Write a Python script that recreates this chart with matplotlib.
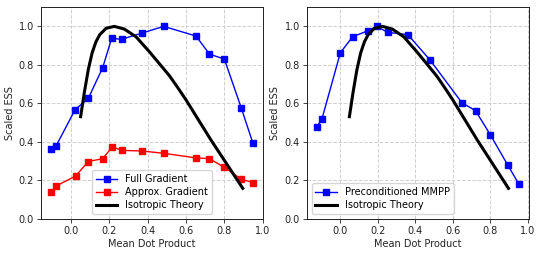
import matplotlib
matplotlib.use("Agg")
import matplotlib.pyplot as plt


# ---------------- DATA ---------------- #

# left panel
full_x = [-0.104, -0.078, 0.021, 0.090, 0.165, 0.212, 0.264, 0.370, 0.483, 0.652, 0.722, 0.800, 0.889, 0.948]
full_y = [0.365, 0.379, 0.567, 0.626, 0.785, 0.938, 0.933, 0.965, 1.000, 0.950, 0.856, 0.830, 0.574, 0.396]

approx_x = [-0.104, -0.078, 0.024, 0.090, 0.165, 0.216, 0.264, 0.370, 0.483, 0.652, 0.722, 0.800, 0.889, 0.948]
approx_y = [0.138, 0.171, 0.223, 0.298, 0.313, 0.375, 0.356, 0.353, 0.341, 0.317, 0.313, 0.268, 0.206, 0.189]

# right panel
precond_x = [-0.123, -0.096, 0.002, 0.067, 0.151, 0.195, 0.254, 0.361, 0.480, 0.648, 0.721, 0.799, 0.892, 0.952]
precond_y = [0.478, 0.519, 0.863, 0.946, 0.978, 1.000, 0.969, 0.957, 0.824, 0.604, 0.562, 0.438, 0.280, 0.180]

# isotropic theory curve (both panels)
theory_x = [0.050, 0.070, 0.090, 0.110, 0.130, 0.150, 0.183, 0.226, 0.278, 0.339, 0.409, 0.514, 0.565, 0.600, 0.730, 0.896]
theory_y = [0.531, 0.660, 0.775, 0.862, 0.920, 0.957, 0.990, 1.000, 0.986, 0.946, 0.868, 0.743, 0.670, 0.618, 0.410, 0.159]

xticks = [0.0, 0.2, 0.4, 0.6, 0.8, 1.0]
yticks = [0.0, 0.2, 0.4, 0.6, 0.8, 1.0]


# ---------------- FIGURE ---------------- #

plt.rcParams["font.family"] = "DejaVu Sans"
plt.rcParams["font.size"] = 7

fig = plt.figure(figsize=(5.41, 2.54), dpi=100)

ax1 = fig.add_axes([0.0758, 0.138, 0.410, 0.834])
ax2 = fig.add_axes([0.567, 0.138, 0.411, 0.834])


def style_axis(ax):

    ax.set_ylim(0, 1.1)
    ax.set_xticks(xticks)
    ax.set_yticks(yticks)
    ax.grid(linestyle="--", color="#d0d0d0", linewidth=0.7)
    ax.set_axisbelow(True)
    ax.tick_params(labelsize=7, length=3, width=0.6, pad=2,
                   colors="#222222")
    for spine in ax.spines.values():
        spine.set_linewidth(0.7)
        spine.set_color("#222222")
    ax.set_xlabel("Mean Dot Product", fontsize=7, labelpad=2,
                  color="#222222")
    ax.set_ylabel("Scaled ESS", fontsize=7, labelpad=3,
                  color="#222222")


# ---------------- LEFT PANEL ---------------- #

ax1.plot(
    full_x, full_y,
    color="#0000ff", marker="s", markersize=4.5,
    linewidth=1.0, label="Full Gradient"
)

ax1.plot(
    approx_x, approx_y,
    color="#ff0000", marker="s", markersize=4.5,
    linewidth=1.0, label="Approx. Gradient"
)

ax1.plot(
    theory_x, theory_y,
    color="black", linewidth=2.2, label="Isotropic Theory"
)

style_axis(ax1)

ax1.legend(loc="lower center", fontsize=7, framealpha=0.8,
           handlelength=2.2, borderpad=0.4, labelspacing=0.3)


# ---------------- RIGHT PANEL ---------------- #

ax2.plot(
    precond_x, precond_y,
    color="#0000ff", marker="s", markersize=4.5,
    linewidth=1.0, label="Preconditioned MMPP"
)

ax2.plot(
    theory_x, theory_y,
    color="black", linewidth=2.2, label="Isotropic Theory"
)

style_axis(ax2)

ax2.legend(loc="lower left", fontsize=7, framealpha=0.8,
           handlelength=2.2, borderpad=0.4, labelspacing=0.3)

plt.savefig("out.png", dpi=100)
